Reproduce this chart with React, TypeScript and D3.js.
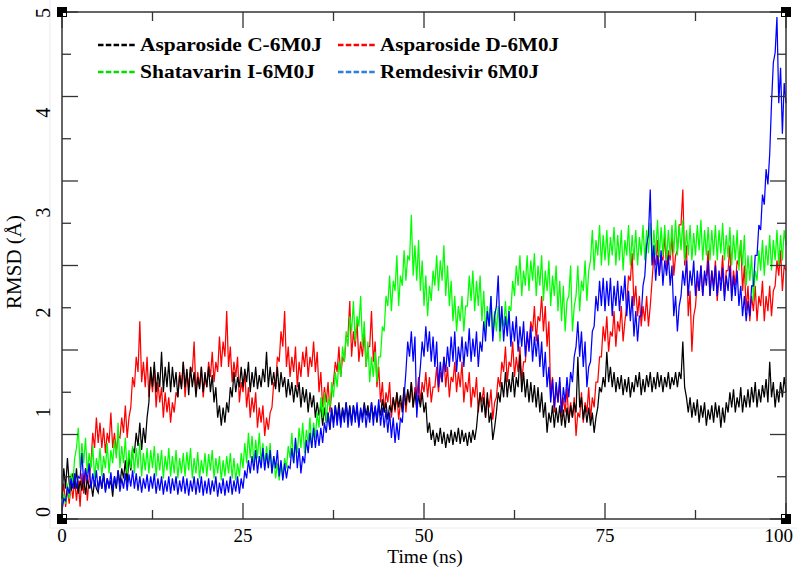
import React from "react";
import * as d3 from "d3";

// sampling step of the series (ns)
const STEP = 0.25;

// RMSD (Å) every 0.25 ns, 0 → 100 ns (one row = 5 ns)
const asparosideC: number[] = [
  0.2, 0.5, 0.3, 0.6, 0.35, 0.28, 0.45, 0.3, 0.5, 0.25, 0.38, 0.28, 0.42, 0.24, 0.4, 0.3, 0.36, 0.22, 0.38, 0.3,
  0.26, 0.42, 0.3, 0.45, 0.28, 0.4, 0.32, 0.38, 0.22, 0.42, 0.3, 0.48, 0.34, 0.5, 0.4, 0.58, 0.35, 0.62, 0.48, 0.7,
  0.65, 0.85, 0.72, 0.95, 0.68, 0.9, 0.75, 1.0, 1.15, 1.5, 1.3, 1.55, 1.25, 1.45, 1.3, 1.65, 1.25, 1.5, 1.3, 1.55,
  1.25, 1.5, 1.3, 1.45, 1.2, 1.42, 1.28, 1.55, 1.3, 1.48, 1.22, 1.5, 1.3, 1.45, 1.2, 1.4, 1.28, 1.5, 1.25, 1.45,
  1.3, 1.5, 1.25, 1.42, 1.15, 1.3, 1.0, 1.12, 0.92, 1.1, 0.95, 1.15, 1.05, 1.3, 1.2, 1.45, 1.25, 1.4, 1.3, 1.5,
  1.3, 1.48, 1.35, 1.55, 1.25, 1.45, 1.3, 1.5, 1.28, 1.42, 1.3, 1.48, 1.35, 1.65, 1.3, 1.5, 1.32, 1.45, 1.28, 1.5,
  1.25, 1.45, 1.3, 1.4, 1.2, 1.38, 1.22, 1.35, 1.15, 1.32, 1.2, 1.35, 1.1, 1.3, 1.15, 1.28, 1.05, 1.25, 1.1, 1.22,
  1.0, 1.15, 1.02, 1.12, 0.92, 1.1, 0.95, 1.05, 0.88, 1.08, 0.95, 1.12, 0.98, 1.15, 0.95, 1.1, 1.0, 1.15, 0.98, 1.12,
  0.95, 1.12, 1.0, 1.1, 0.92, 1.08, 1.0, 1.15, 1.02, 1.12, 0.98, 1.15, 1.0, 1.1, 0.95, 1.12, 1.02, 1.18, 1.05, 1.15,
  0.98, 1.12, 1.05, 1.2, 1.08, 1.25, 1.1, 1.22, 1.05, 1.3, 1.12, 1.28, 1.15, 1.35, 1.1, 1.25, 1.08, 1.22, 1.1, 1.25,
  1.05, 1.15, 0.85, 0.95, 0.78, 0.88, 0.72, 0.85, 0.76, 0.9, 0.74, 0.86, 0.7, 0.84, 0.75, 0.88, 0.73, 0.86, 0.76, 0.9,
  0.74, 0.88, 0.76, 0.85, 0.72, 0.86, 0.75, 0.88, 0.78, 0.9, 1.1, 1.25, 1.05, 1.2, 1.0, 1.25, 0.95, 1.05, 0.78, 0.9,
  1.05, 1.25, 1.15, 1.35, 1.2, 1.45, 1.2, 1.38, 1.25, 1.45, 1.2, 1.4, 1.3, 1.62, 1.25, 1.45, 1.2, 1.38, 1.15, 1.35,
  1.15, 1.32, 1.1, 1.3, 1.05, 1.25, 1.0, 1.15, 0.85, 1.05, 0.95, 1.12, 0.9, 1.1, 0.95, 1.12, 0.92, 1.08, 0.9, 1.1,
  0.95, 1.12, 1.0, 1.15, 1.05, 1.6, 1.1, 1.2, 0.98, 1.12, 0.95, 1.1, 0.92, 1.05, 0.85, 1.0, 1.1, 1.3, 1.25, 1.4,
  1.3, 1.65, 1.35, 1.5, 1.3, 1.45, 1.25, 1.4, 1.28, 1.42, 1.22, 1.38, 1.25, 1.4, 1.2, 1.35, 1.25, 1.42, 1.3, 1.45,
  1.22, 1.38, 1.25, 1.42, 1.3, 1.45, 1.25, 1.4, 1.28, 1.45, 1.3, 1.42, 1.25, 1.4, 1.3, 1.45, 1.28, 1.4, 1.32, 1.45,
  1.3, 1.45, 1.38, 1.75, 1.3, 1.2, 1.05, 1.2, 1.0, 1.15, 1.02, 1.18, 0.95, 1.12, 1.0, 1.15, 0.92, 1.08, 0.98, 1.12,
  0.95, 1.15, 1.0, 1.12, 0.9, 1.1, 0.95, 1.15, 1.05, 1.25, 1.1, 1.28, 1.05, 1.2, 1.1, 1.3, 1.05, 1.22, 1.1, 1.28,
  1.1, 1.3, 1.15, 1.35, 1.1, 1.28, 1.15, 1.32, 1.2, 1.38, 1.15, 1.55, 1.2, 1.35, 1.1, 1.28, 1.15, 1.35, 1.2, 1.4,
  1.25,
];

const asparosideD: number[] = [
  0.2, 0.35, 0.12, 0.3, 0.15, 0.35, 0.2, 0.4, 0.18, 0.38, 0.12, 0.45, 0.25, 0.5, 0.18, 0.4, 0.55, 0.85, 0.7, 1.0,
  0.75, 0.95, 0.7, 0.9, 0.65, 0.85, 0.75, 1.05, 0.7, 0.85, 0.65, 0.82, 0.8, 1.0, 0.85, 1.12, 0.8, 1.0, 1.1, 1.4,
  1.3, 1.6, 1.45, 1.95, 1.35, 1.55, 1.3, 1.6, 1.2, 1.45, 1.25, 1.5, 1.1, 1.35, 1.15, 1.3, 1.0, 1.25, 1.05, 1.2,
  0.95, 1.15, 1.05, 1.25, 1.2, 1.45, 1.3, 1.55, 1.2, 1.45, 1.3, 1.5, 1.45, 1.75, 1.25, 1.45, 1.3, 1.5, 1.2, 1.4,
  1.3, 1.55, 1.4, 1.65, 1.35, 1.55, 1.45, 1.8, 1.5, 1.75, 1.6, 2.05, 1.5, 1.7, 1.35, 1.55, 1.4, 1.6, 1.15, 1.35,
  1.25, 1.45, 1.1, 1.3, 1.0, 1.2, 1.05, 1.25, 0.9, 1.1, 0.95, 1.12, 0.82, 1.0, 0.88, 1.05, 1.1, 1.35, 1.3, 1.6,
  1.55, 1.85, 1.7, 2.05, 1.5, 1.7, 1.4, 1.6, 1.45, 1.7, 1.3, 1.55, 1.4, 1.65, 1.5, 1.7, 1.4, 1.6, 1.5, 1.75,
  1.45, 1.65, 1.25, 1.45, 1.1, 1.3, 1.15, 1.35, 1.05, 1.25, 1.35, 1.55, 1.45, 1.7, 1.4, 1.6, 1.55, 1.8, 1.8, 2.15,
  1.6, 1.85, 1.7, 1.95, 1.55, 1.75, 1.6, 1.85, 1.5, 1.7, 1.7, 2.05, 1.55, 1.75, 1.3, 1.5, 1.15, 1.35, 1.05, 1.25,
  1.15, 1.35, 1.0, 1.2, 1.05, 1.25, 0.98, 1.15, 1.1, 1.3, 1.05, 1.25, 1.15, 1.35, 1.1, 1.3, 1.2, 1.4, 1.15, 1.35,
  1.25, 1.45, 1.2, 1.4, 1.15, 1.3, 1.3, 1.5, 1.25, 1.45, 1.35, 1.6, 1.3, 1.5, 1.2, 1.4, 1.35, 1.55, 1.25, 1.45,
  1.3, 1.55, 1.15, 1.35, 1.25, 1.45, 1.1, 1.3, 1.2, 1.4, 1.05, 1.25, 1.15, 1.3, 1.0, 1.2, 1.1, 1.28, 0.98, 1.15,
  1.2, 1.4, 1.3, 1.55, 1.45, 1.7, 1.35, 1.55, 1.5, 1.75, 1.4, 1.6, 1.45, 1.7, 1.35, 1.55, 1.55, 1.8, 1.7, 1.95,
  1.85, 2.1, 1.75, 2.0, 1.95, 2.2, 1.85, 2.1, 1.7, 1.95, 1.2, 1.4, 1.05, 1.3, 1.15, 1.35, 1.0, 1.2, 1.05, 1.3,
  0.95, 1.15, 1.0, 1.2, 0.82, 1.05, 1.0, 1.25, 0.95, 1.15, 1.05, 1.3, 0.98, 1.2, 1.1, 1.35, 1.35, 1.6, 1.6, 1.9,
  1.75, 2.0, 1.65, 1.85, 1.8, 2.05, 1.7, 1.95, 1.85, 2.1, 1.75, 1.95, 2.1, 2.4, 2.35, 2.62, 2.1, 2.3, 2.0, 2.2,
  1.9, 2.1, 1.95, 2.2, 1.9, 2.1, 2.35, 2.6, 2.5, 2.75, 2.4, 2.6, 2.55, 2.8, 2.45, 2.65, 2.55, 2.8, 2.4, 2.6,
  2.65, 2.9, 2.9, 3.25, 2.5, 2.7, 2.0, 2.25, 1.65, 2.0, 2.1, 2.35, 2.25, 2.5, 2.2, 2.4, 2.4, 2.65, 2.2, 2.45,
  2.3, 2.55, 2.15, 2.4, 2.35, 2.6, 2.2, 2.45, 2.45, 2.7, 2.2, 2.45, 2.3, 2.55, 2.5, 2.75, 2.25, 2.5, 2.05, 2.3,
  1.95, 2.2, 2.05, 2.3, 1.95, 2.2, 2.1, 2.35, 1.95, 2.2, 2.05, 2.3, 2.0, 2.25, 2.3, 2.55, 2.4, 2.65, 2.25, 2.5,
  2.45,
];

const shatavarinI: number[] = [
  0.12, 0.25, 0.15, 0.35, 0.2, 0.45, 0.35, 0.6, 0.7, 0.9, 0.5, 0.75, 0.55, 0.8, 0.45, 0.65, 0.5, 0.72, 0.4, 0.6,
  0.48, 0.7, 0.42, 0.62, 0.5, 0.75, 0.45, 0.68, 0.55, 0.78, 0.6, 0.95, 0.5, 0.72, 0.55, 0.8, 0.45, 0.68, 0.5, 0.72,
  0.45, 0.7, 0.5, 0.75, 0.42, 0.65, 0.48, 0.7, 0.45, 0.68, 0.5, 0.72, 0.42, 0.65, 0.48, 0.68, 0.4, 0.62, 0.48, 0.7,
  0.42, 0.62, 0.45, 0.68, 0.4, 0.6, 0.45, 0.65, 0.42, 0.66, 0.48, 0.7, 0.4, 0.6, 0.45, 0.66, 0.4, 0.58, 0.45, 0.65,
  0.42, 0.64, 0.48, 0.68, 0.4, 0.6, 0.45, 0.62, 0.38, 0.58, 0.42, 0.62, 0.45, 0.65, 0.4, 0.6, 0.38, 0.55, 0.42, 0.65,
  0.5, 0.75, 0.55, 0.85, 0.6, 0.82, 0.55, 0.78, 0.6, 0.85, 0.55, 0.75, 0.5, 0.72, 0.55, 0.75, 0.45, 0.62, 0.4, 0.55,
  0.38, 0.55, 0.4, 0.6, 0.5, 0.72, 0.6, 0.85, 0.55, 0.78, 0.65, 0.9, 0.7, 0.95, 0.65, 0.88, 0.75, 1.0, 0.7, 0.95,
  0.8, 1.05, 0.9, 1.2, 1.0, 1.25, 0.95, 1.2, 1.1, 1.35, 1.2, 1.45, 1.3, 1.55, 1.4, 1.7, 1.55, 1.85, 1.7, 2.0,
  1.85, 2.15, 1.75, 2.0, 1.9, 2.2, 1.7, 1.95, 1.5, 1.75, 1.35, 1.6, 1.4, 1.65, 1.35, 1.6, 1.6, 1.9, 1.85, 2.2,
  2.1, 2.4, 2.05, 2.35, 2.25, 2.6, 2.1, 2.4, 2.3, 2.65, 2.35, 2.6, 2.55, 3.0, 2.4, 2.7, 2.35, 2.75, 2.25, 2.55,
  2.1, 2.4, 2.0, 2.3, 2.15, 2.45, 2.3, 2.6, 2.25, 2.55, 2.35, 2.7, 2.2, 2.5, 2.1, 2.35, 1.95, 2.2, 1.85, 2.1,
  1.95, 2.2, 1.85, 2.1, 2.1, 2.4, 2.15, 2.45, 2.05, 2.35, 2.1, 2.4, 1.95, 2.25, 1.85, 2.1, 1.9, 2.2, 1.8, 2.05,
  1.85, 2.1, 1.75, 2.0, 1.9, 2.15, 1.85, 2.1, 2.05, 2.35, 2.2, 2.5, 2.3, 2.6, 2.2, 2.45, 2.3, 2.6, 2.25, 2.55,
  2.35, 2.62, 2.2, 2.5, 2.3, 2.6, 2.15, 2.45, 2.25, 2.55, 2.1, 2.4, 2.2, 2.5, 2.05, 2.35, 1.95, 2.3, 1.85, 2.15,
  2.2, 2.5, 1.85, 2.1, 2.2, 2.5, 2.05, 2.35, 2.25, 2.55, 2.15, 2.45, 2.55, 2.85, 2.45, 2.75, 2.6, 2.9, 2.5, 2.8,
  2.55, 2.85, 2.5, 2.78, 2.6, 2.88, 2.5, 2.8, 2.55, 2.85, 2.45, 2.75, 2.6, 2.9, 2.5, 2.8, 2.55, 2.85, 2.5, 2.78,
  2.6, 2.9, 2.55, 2.85, 2.62, 2.92, 2.55, 2.85, 2.6, 2.95, 2.58, 2.88, 2.6, 2.9, 2.55, 2.85, 2.6, 2.9, 2.62, 2.95,
  2.6, 2.9, 2.65, 2.95, 2.55, 2.85, 2.6, 2.9, 2.55, 2.82, 2.6, 2.9, 2.65, 2.95, 2.55, 2.85, 2.6, 2.88, 2.55, 2.85,
  2.6, 2.9, 2.55, 2.85, 2.62, 2.92, 2.55, 2.8, 2.58, 2.88, 2.5, 2.8, 2.55, 2.85, 2.45, 2.75, 2.5, 2.8, 2.3, 2.6,
  2.35, 2.6, 2.15, 2.45, 2.35, 2.65, 2.45, 2.75, 2.4, 2.7, 2.5, 2.8, 2.45, 2.75, 2.55, 2.85, 2.5, 2.8, 2.55, 2.85,
  2.7,
];

const remdesivir: number[] = [
  0.08, 0.2, 0.18, 0.32, 0.25, 0.4, 0.3, 0.45, 0.3, 0.42, 0.4, 0.65, 0.35, 0.5, 0.38, 0.55, 0.3, 0.45, 0.32, 0.48,
  0.28, 0.42, 0.3, 0.45, 0.26, 0.4, 0.3, 0.46, 0.28, 0.42, 0.32, 0.48, 0.27, 0.4, 0.3, 0.45, 0.28, 0.44, 0.32, 0.48,
  0.3, 0.45, 0.28, 0.42, 0.26, 0.4, 0.3, 0.44, 0.27, 0.42, 0.3, 0.45, 0.25, 0.4, 0.28, 0.42, 0.24, 0.38, 0.27, 0.42,
  0.25, 0.4, 0.28, 0.42, 0.24, 0.38, 0.27, 0.42, 0.25, 0.4, 0.23, 0.38, 0.27, 0.42, 0.24, 0.4, 0.26, 0.42, 0.23, 0.38,
  0.25, 0.4, 0.24, 0.38, 0.27, 0.42, 0.22, 0.36, 0.25, 0.4, 0.23, 0.38, 0.26, 0.42, 0.24, 0.38, 0.27, 0.42, 0.25, 0.4,
  0.3, 0.48, 0.4, 0.58, 0.45, 0.62, 0.48, 0.68, 0.45, 0.62, 0.5, 0.7, 0.48, 0.65, 0.5, 0.68, 0.45, 0.62, 0.5, 0.68,
  0.42, 0.58, 0.38, 0.55, 0.4, 0.52, 0.5, 0.7, 0.55, 0.8, 0.5, 0.7, 0.45, 0.62, 0.55, 0.78, 0.65, 0.85, 0.7, 0.9,
  0.7, 0.88, 0.72, 0.9, 0.75, 0.95, 0.85, 1.05, 0.88, 1.1, 0.9, 1.12, 0.92, 1.1, 0.9, 1.08, 0.95, 1.15, 0.9, 1.1,
  0.92, 1.12, 0.95, 1.15, 0.9, 1.1, 0.95, 1.12, 0.9, 1.08, 0.95, 1.15, 0.92, 1.12, 0.98, 1.18, 0.92, 1.1, 0.9, 1.08,
  0.85, 1.05, 0.8, 1.0, 0.75, 0.95, 0.78, 1.0, 0.95, 1.2, 1.45, 1.75, 1.6, 1.85, 1.55, 1.8, 1.0, 1.3, 1.5, 1.75,
  1.6, 1.9, 1.65, 1.85, 1.55, 1.8, 1.5, 1.75, 1.3, 1.55, 1.35, 1.6, 1.45, 1.7, 1.5, 1.8, 1.55, 1.85, 1.45, 1.7,
  1.55, 1.8, 1.5, 1.75, 1.6, 1.88, 1.55, 1.78, 1.6, 1.85, 1.5, 1.75, 1.65, 1.95, 1.75, 2.05, 1.9, 2.2, 1.75, 2.0,
  2.1, 2.4, 1.85, 2.1, 1.75, 2.0, 1.8, 2.05, 1.7, 1.95, 1.75, 2.0, 1.65, 1.9, 1.7, 1.95, 1.6, 1.85, 1.65, 1.9,
  1.55, 1.8, 1.6, 1.82, 1.5, 1.75, 1.4, 1.65, 1.3, 1.5, 1.15, 1.38, 1.1, 1.35, 1.15, 1.4, 1.05, 1.3, 1.15, 1.4,
  1.2, 1.45, 1.35, 1.6, 1.7, 1.95, 1.6, 1.85, 1.5, 1.75, 1.3, 1.5, 1.55, 1.85, 1.9, 2.2, 2.05, 2.35, 2.1, 2.38,
  2.05, 2.35, 2.1, 2.38, 2.0, 2.3, 2.1, 2.35, 2.05, 2.3, 2.15, 2.4, 2.0, 2.25, 1.95, 2.2, 1.8, 2.05, 1.75, 2.0,
  2.0, 2.3, 2.4, 2.7, 2.8, 3.25, 2.5, 2.7, 2.35, 2.6, 2.4, 2.65, 2.3, 2.55, 2.4, 2.6, 2.3, 2.5, 2.0, 2.2,
  1.85, 2.1, 2.2, 2.45, 2.3, 2.55, 2.2, 2.45, 2.3, 2.55, 2.2, 2.45, 2.25, 2.5, 2.2, 2.45, 2.3, 2.55, 2.2, 2.45,
  2.25, 2.5, 2.2, 2.45, 2.25, 2.48, 2.15, 2.4, 2.25, 2.5, 2.15, 2.4, 2.2, 2.45, 2.1, 2.3, 2.0, 2.2, 1.95, 2.15,
  2.0, 2.3, 2.3, 2.6, 2.6, 2.9, 2.85, 3.2, 3.1, 3.45, 3.3, 3.6, 4.1, 4.5, 4.6, 4.95, 4.1, 4.45, 3.8, 4.3,
  4.1,
];

const seriesNames = ["Asparoside C-6M0J", "Asparoside D-6M0J", "Shatavarin I-6M0J", "Remdesivir 6M0J"];
const seriesColors = ["#000000", "#ff0000", "#00ff00", "#0000ff"];
const legendColors = ["#000000", "#ff0000", "#00e000", "#2a7fdc"];
const legendWidths = [182, 179, 175, 159];
const xTickLabels = [0, 25, 50, 75, 100];
const yTickLabels = [0, 1, 2, 3, 4, 5];

const W = 797;
const H = 567;
const L = 62, R = 786, T = 12, B = 519;

export default function App() {
  const x = d3.scaleLinear().domain([0, 100]).range([L, R]);
  const y = d3.scaleLinear().domain([0, 5]).range([B, T]);
  // tick marks of the frame (12 half-unit intervals)
  const yTickScale = d3.scaleLinear().domain([0, 6]).range([B, T]);
  // placement of the y tick labels
  const yLabelScale = d3.scaleLinear().domain([0, 5]).range([512, 13]);

  const all = [asparosideC, asparosideD, shatavarinI, remdesivir];
  const drawOrder = [1, 0, 2, 3];
  const line = d3
    .line<number>()
    .x((_, i) => x(i * STEP))
    .y((d) => y(d));

  const xTicks = d3.range(0, 100.01, 12.5);
  const yTicks = d3.range(0, 6.01, 0.5);
  const axisColor = "#333";
  const serif = "'Liberation Serif', 'Times New Roman', serif";

  const corners = [
    [L, T, 1, 1],
    [R, T, -1, 1],
    [L, B, 1, -1],
    [R, B, -1, -1],
  ];

  const legendRows = [
    { i: 0, col: 0, row: 0 },
    { i: 1, col: 1, row: 0 },
    { i: 2, col: 0, row: 1 },
    { i: 3, col: 1, row: 1 },
  ];
  const colX = [98, 338];
  const rowY = [45, 72];

  return (
    <svg width={W} height={H} style={{ position: "absolute", left: 0, top: 0, background: "#fff" }}>
      <rect x={0} y={0} width={W} height={H} fill="#fff" />
      {/* faint outer frame */}
      <line x1={50} y1={0} x2={50} y2={528} stroke="#ececec" strokeWidth={1} />
      <line x1={50} y1={528} x2={W} y2={528} stroke="#ececec" strokeWidth={1} />

      {/* data */}
      <g fill="none" strokeWidth={1.25} strokeLinejoin="miter">
        {drawOrder.map((k) => (
          <path key={k} d={line(all[k]) || ""} stroke={seriesColors[k]} />
        ))}
      </g>

      {/* frame */}
      <rect x={L} y={T} width={R - L} height={B - T} fill="none" stroke={axisColor} strokeWidth={1.5} />

      {/* ticks */}
      <g stroke={axisColor} strokeWidth={1.3}>
        {xTicks.map((v, i) => {
          const len = i % 2 === 0 ? 16 : 9;
          return (
            <g key={"xt" + i}>
              <line x1={x(v)} x2={x(v)} y1={B} y2={B - len} />
              <line x1={x(v)} x2={x(v)} y1={T} y2={T + len} />
            </g>
          );
        })}
        {yTicks.map((v, i) => {
          const len = i % 2 === 0 ? 16 : 9;
          return (
            <g key={"yt" + i}>
              <line x1={L} x2={L + len} y1={yTickScale(v)} y2={yTickScale(v)} />
              <line x1={R} x2={R - len} y1={yTickScale(v)} y2={yTickScale(v)} />
            </g>
          );
        })}
      </g>

      {/* corner markers */}
      {corners.map(([cx, cy, dx, dy], i) => (
        <g key={"c" + i}>
          <rect x={cx - 5} y={cy - 5} width={10} height={10} fill="#000" />
          <rect x={dx > 0 ? cx + 1 : cx - 4} y={dy > 0 ? cy + 1 : cy - 4} width={3} height={3} fill="#fff" />
        </g>
      ))}

      {/* x tick labels */}
      <g fontFamily={serif} fill="#000">
        {xTickLabels.map((v, i) => (
          <text
            key={"xl" + v}
            x={i === xTickLabels.length - 1 ? x(v) + 7 : x(v)}
            y={542}
            fontSize={19}
            textAnchor={i === xTickLabels.length - 1 ? "end" : "middle"}
          >
            {v}
          </text>
        ))}
        <text x={425} y={563} textAnchor="middle" fontSize={19.5}>
          Time (ns)
        </text>
      </g>

      {/* y tick labels (rotated) */}
      <g fontFamily={serif} fontSize={20} fill="#000">
        {yTickLabels.map((v) => (
          <text
            key={"yl" + v}
            transform={`translate(42.5,${yLabelScale(v)}) rotate(-90)`}
            textAnchor="middle"
            dominantBaseline="central"
          >
            {v}
          </text>
        ))}
        <text transform="translate(14,262) rotate(-90)" textAnchor="middle" dominantBaseline="central" fontSize={21}>
          RMSD (Å)
        </text>
      </g>

      {/* legend */}
      <g fontFamily={serif} fontWeight="bold" fontSize={19} fill="#000">
        {legendRows.map(({ i, col, row }) => (
          <g key={"lg" + i}>
            <line
              x1={colX[col]}
              x2={colX[col] + 37}
              y1={rowY[row]}
              y2={rowY[row]}
              stroke={legendColors[i]}
              strokeWidth={2.5}
              strokeDasharray="5.5 2.3"
            />
            <text
              x={colX[col] + 42}
              y={rowY[row] + 5.5}
              textLength={legendWidths[i]}
              lengthAdjust="spacingAndGlyphs"
            >
              {seriesNames[i]}
            </text>
          </g>
        ))}
      </g>
    </svg>
  );
}
